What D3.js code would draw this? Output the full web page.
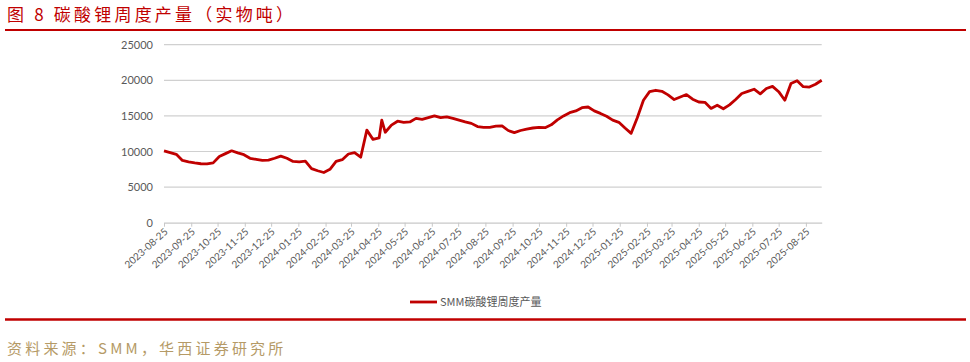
<!DOCTYPE html>
<html>
<head>
<meta charset="utf-8">
<script src="https://cdn.jsdelivr.net/npm/d3@7"></script>
<style>
  body { margin: 0; background: #fff; }
  svg { display: block; }
</style>
</head>
<body>
<svg id="chart" width="970" height="362"></svg>
<script>
const titleText = "图 8 碳酸锂周度产量（实物吨）";
const sourceText = "资料来源：SMM，华西证券研究所";
const seriesName = "SMM碳酸锂周度产量";

// weekly dates start on 2023-08-25, one extra reading on 2024-04-29
const firstWeek = "2023-08-25";
const extraDate = "2024-04-29";

const weeklyValues = [
    10100, 9850, 9600, 8750, 8550, 8400, 8280, 8250, 8400, 9300,
    9700, 10100, 9800, 9550, 9050, 8900, 8750, 8800, 9050, 9350,
    9050, 8600, 8550, 8650, 7600, 7300, 7050, 7500, 8600, 8850,
    9650, 9850, 9200, 13000, 11700, 11900, 12700, 13700, 14250, 14100,
    14150, 14650, 14500, 14750, 15000, 14750, 14850, 14650, 14400, 14150,
    13950, 13500, 13400, 13400, 13550, 13600, 12950, 12650, 12950, 13150,
    13300, 13400, 13350, 13750, 14450, 15000, 15450, 15700, 16150, 16250,
    15700, 15350, 14950, 14400, 14100, 13300, 12550, 14750, 17200, 18400,
    18600, 18450, 17950, 17300, 17650, 18000, 17350, 16950, 16900, 16050,
    16500, 16000, 16550, 17300, 18150, 18450, 18750, 18100, 18850, 19150,
    18400, 17200, 19550, 19950, 19100, 19050, 19450, 20000
];
const extraValue = 14400;

const yTicks = [0, 5000, 10000, 15000, 20000, 25000];
const xTickLabels = [
    "2023-08-25", "2023-09-25", "2023-10-25", "2023-11-25", "2023-12-25",
    "2024-01-25", "2024-02-25", "2024-03-25", "2024-04-25", "2024-05-25",
    "2024-06-25", "2024-07-25", "2024-08-25", "2024-09-25", "2024-10-25",
    "2024-11-25", "2024-12-25", "2025-01-25", "2025-02-25", "2025-03-25",
    "2025-04-25", "2025-05-25", "2025-06-25", "2025-07-25", "2025-08-25"
];

const parseDate = d3.timeParse("%Y-%m-%d");
const start = parseDate(firstWeek);

const dataset = weeklyValues.map((v, i) => ({ date: d3.timeDay.offset(start, i * 7), value: v }));
dataset.push({ date: parseDate(extraDate), value: extraValue });
dataset.sort((a, b) => a.date - b.date);

const svg = d3.select("#chart");
const cjk = "'Noto Sans CJK SC', sans-serif";
const latin = "Lato, 'Noto Sans CJK SC', sans-serif";
const red = "#c00000";

// header
svg.append("text")
    .attr("x", 7)
    .attr("y", 21)
    .attr("fill", red)
    .style("font-family", cjk)
    .style("font-size", "17px")
    .style("letter-spacing", "3.2px")
    .text(titleText);

svg.append("line")
    .attr("x1", 5).attr("x2", 966)
    .attr("y1", 30).attr("y2", 30)
    .attr("stroke", red)
    .attr("stroke-width", 2);

const xScale = d3.scaleTime()
    .domain(d3.extent(dataset, d => d.date))
    .range([164, 821.7]);

const yScale = d3.scaleLinear()
    .domain([0, 25000])
    .range([222.7, 44.7]);

// grid
svg.append("g")
    .selectAll("line")
    .data(yTicks.filter(t => t > 0))
    .enter()
    .append("line")
    .attr("x1", xScale.range()[0])
    .attr("x2", xScale.range()[1])
    .attr("y1", d => yScale(d))
    .attr("y2", d => yScale(d))
    .attr("stroke", "#d0d0d0")
    .attr("stroke-width", 1.2);

const yAxis = d3.axisLeft(yScale)
    .tickValues(yTicks)
    .tickFormat(d3.format("d"))
    .tickSize(0)
    .tickPadding(11);

const yG = svg.append("g")
    .attr("transform", `translate(${xScale.range()[0]},0)`)
    .call(yAxis);
yG.select(".domain").remove();
yG.selectAll("text")
    .attr("fill", "#595959")
    .style("font-family", latin)
    .style("font-size", "11px");

const xAxis = d3.axisBottom(xScale)
    .tickValues(xTickLabels.map(parseDate))
    .tickFormat(d3.timeFormat("%Y-%m-%d"))
    .tickSizeInner(4)
    .tickSizeOuter(0);

const xG = svg.append("g")
    .attr("transform", `translate(0,${yScale(0)})`)
    .call(xAxis);
xG.select(".domain").attr("stroke", "#c8c8c8").attr("stroke-width", 1.2);
xG.selectAll(".tick line").attr("stroke", "#c8c8c8");
xG.selectAll(".tick text")
    .attr("fill", "#595959")
    .style("font-family", latin)
    .style("font-size", "10px")
    .style("text-anchor", "end")
    .attr("dy", null)
    .attr("y", 0)
    .attr("x", 0)
    .attr("transform", "translate(4,10) rotate(-42)");

// series
const line = d3.line()
    .x(d => xScale(d.date))
    .y(d => yScale(d.value));

svg.append("path")
    .datum(dataset)
    .attr("d", line)
    .attr("fill", "none")
    .attr("stroke", red)
    .attr("stroke-width", 2.8)
    .attr("stroke-linejoin", "round");

// legend
const legend = svg.append("g").attr("transform", "translate(410,302)");
legend.append("line")
    .attr("x1", 0).attr("x2", 27)
    .attr("stroke", red)
    .attr("stroke-width", 2.8);
legend.append("text")
    .attr("x", 30)
    .attr("y", 4)
    .attr("fill", "#595959")
    .style("font-family", cjk)
    .style("font-size", "11px")
    .text(seriesName);

// footer
svg.append("line")
    .attr("x1", 5).attr("x2", 966)
    .attr("y1", 319.5).attr("y2", 319.5)
    .attr("stroke", red)
    .attr("stroke-width", 2.5);

svg.append("text")
    .attr("x", 7)
    .attr("y", 354)
    .attr("fill", "#b59a66")
    .style("font-family", cjk)
    .style("font-size", "15px")
    .style("letter-spacing", "3.2px")
    .text(sourceText);
</script>
</body>
</html>
